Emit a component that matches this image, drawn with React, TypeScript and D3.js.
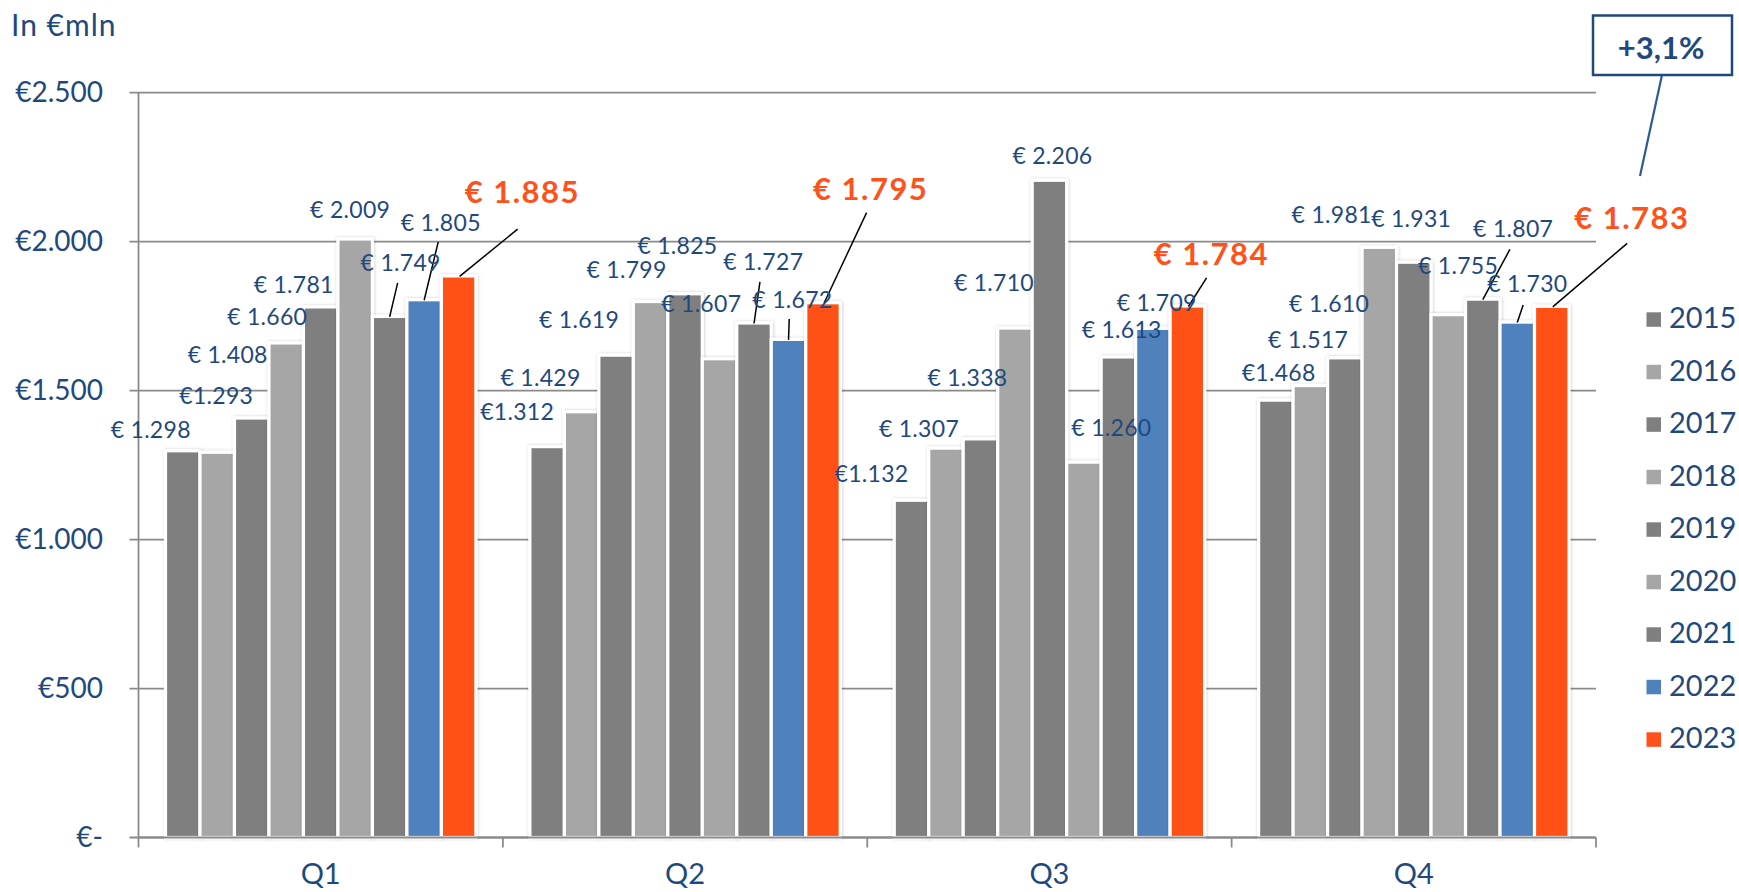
import React from "react";
import * as d3 from "d3";

const quarters = ["Q1", "Q2", "Q3", "Q4"];
const years = ["2015", "2016", "2017", "2018", "2019", "2020", "2021", "2022", "2023"];

const y2015 = [1298, 1312, 1132, 1468];
const y2016 = [1293, 1429, 1307, 1517];
const y2017 = [1408, 1619, 1338, 1610];
const y2018 = [1660, 1799, 1710, 1981];
const y2019 = [1781, 1825, 2206, 1931];
const y2020 = [2009, 1607, 1260, 1755];
const y2021 = [1749, 1727, 1613, 1807];
const y2022 = [1805, 1672, 1709, 1730];
const y2023 = [1885, 1795, 1784, 1783];
const series = [y2015, y2016, y2017, y2018, y2019, y2020, y2021, y2022, y2023];

const yTicks = [0, 500, 1000, 1500, 2000, 2500];
const growthLabel = "+3,1%";
const unitLabel = "In €mln";

// labels written without space after € (per quarter, year index)
const noSpaceLabels = [[0, 1], [1, 0], [2, 0], [3, 0]];

// layout: label offsets (dx, dy) from bar top centre, per quarter per year
const labelOffsets = [
  [[-32, -13], [-1, -48], [-24, -55], [-19, -18], [-27, -13.5], [-5, -20.5], [11, -45.6], [16.6, -68.6], [63.7, -72.5]],
  [[-30, -27], [-41, -26], [-37, -27], [-24, -24], [-7.6, -39.7], [-18.3, -47], [9.2, -53], [3.9, -31.6], [47.7, -102.6]],
  [[-40, -18.5], [-27, -11.3], [-13, -52.8], [-21, -37.2], [3, -15.8], [27.5, -26], [3.3, -18.5], [3.8, -17.5], [24, -40.9]],
  [[2.8, -19], [-2.2, -37.7], [-15.7, -46], [-47.7, -24], [-2.6, -34.8], [9.8, -40.5], [30.4, -61.7], [10.1, -29.7], [80.1, -77]],
];
// leader lines: [quarter, year, dx, dy] start relative to bar top centre
const leaders = [
  [0, 6, 8, -33.6], [0, 7, 14.1, -57.9], [0, 8, 59, -46.8],
  [1, 6, 5.9, -41.2], [1, 7, 0.7, -20.3], [1, 8, 43.6, -90.1],
  [2, 8, 19.2, -28.2],
  [3, 6, 27.1, -49.7], [3, 7, 5.9, -17], [3, 8, 75.4, -62.9],
];

const DARK = "#7f7f7f";
const LIGHT = "#a6a6a6";
const BLUE = "#4f81bd";
const ORANGE = "#ff5119";
const TEXT = "#1f497d";
const GRID = "#8a8a8a";
const colors = [DARK, LIGHT, DARK, LIGHT, DARK, LIGHT, DARK, BLUE, ORANGE];
const FONT = "Lato, 'Open Sans', sans-serif";

const locale = d3.formatLocale({ decimal: ",", thousands: ".", grouping: [3], currency: ["€", ""] });
const fmt = locale.format(",.0f");

export default function App() {
  const W = 1739, H = 892;
  const left = 138.5, right = 1596, top = 92.7, bottom = 837.5;
  const y = d3.scaleLinear().domain([0, 2500]).range([bottom, top]);
  const x0 = d3.scaleBand().domain(quarters).range([left, right]).paddingInner(0).paddingOuter(0);
  const x1 = d3.scaleBand().domain(years).range([0, x0.bandwidth()]).paddingInner(0).paddingOuter(0.783);

  const barCx = (qi: number, yi: number) => (x0(quarters[qi]) as number) + (x1(years[yi]) as number) + x1.bandwidth() / 2;
  const barTop = (qi: number, yi: number) => y(series[yi][qi]);

  const isNoSpace = (qi: number, yi: number) => noSpaceLabels.some(([a, b]) => a === qi && b === yi);

  return (
    <svg width={W} height={H} style={{ position: "absolute", left: 0, top: 0, background: "#fff" }} fontFamily={FONT}>
      <defs>
        <filter id="sh" x="-30%" y="-5%" width="160%" height="110%">
          <feDropShadow dx="0.5" dy="0" stdDeviation="1.8" floodColor="#000" floodOpacity="0.22" />
        </filter>
      </defs>
      <rect x={0} y={0} width={W} height={H} fill="#fff" />
      <text x={11} y={36} fontSize={30} letterSpacing={1} fill={TEXT}>{unitLabel}</text>

      {/* gridlines */}
      {yTicks.map((t) => (
        <g key={t}>
          <line x1={left - 9} x2={right} y1={y(t)} y2={y(t)} stroke={GRID} strokeWidth={1.8} />
          <text x={103} y={y(t) + 9} textAnchor="end" fontSize={28} fill={TEXT}>
            {t === 0 ? "€-" : "€" + fmt(t)}
          </text>
        </g>
      ))}
      {/* y axis */}
      <line x1={left} x2={left} y1={top} y2={bottom + 10} stroke={GRID} strokeWidth={1.8} />
      {/* category ticks */}
      {quarters.map((q) => (
        <line key={"t" + q} x1={(x0(q) as number) + x0.bandwidth()} x2={(x0(q) as number) + x0.bandwidth()} y1={bottom} y2={bottom + 10} stroke={GRID} strokeWidth={1.8} />
      ))}

      {/* bars */}
      {quarters.map((q, qi) => (
        <g key={q}>
          {years.map((yr, yi) => {
            const v = series[yi][qi];
            const bx = (x0(q) as number) + (x1(yr) as number);
            return (
              <rect key={yr} x={bx} y={y(v)} width={x1.bandwidth()} height={bottom - y(v)} fill={colors[yi]} stroke="#fff" strokeWidth={3.2} filter="url(#sh)" />
            );
          })}
        </g>
      ))}
      <line x1={left} x2={right} y1={bottom} y2={bottom} stroke={GRID} strokeWidth={1.8} />

      {/* category labels */}
      {quarters.map((q) => (
        <text key={"l" + q} x={(x0(q) as number) + x0.bandwidth() / 2} y={884} textAnchor="middle" fontSize={29} fill={TEXT}>{q}</text>
      ))}

      {/* leader lines */}
      {leaders.map(([qi, yi, dx, dy], i) => {
        const cx = barCx(qi, yi), ty = barTop(qi, yi);
        return <line key={"ld" + i} x1={cx + dx} y1={ty + dy} x2={cx + (yi === 8 ? 1 : 0)} y2={ty + 0.5} stroke="#000" strokeWidth={1.5} />;
      })}

      {/* data labels */}
      {quarters.map((q, qi) =>
        years.map((yr, yi) => {
          const v = series[yi][qi];
          const [dx, dy] = labelOffsets[qi][yi];
          const hi = yi === 8;
          const txt = (isNoSpace(qi, yi) ? "€" : "€ ") + fmt(v);
          return (
            <text key={q + yr} x={barCx(qi, yi) + dx} y={barTop(qi, yi) + dy} textAnchor="middle"
              fontSize={hi ? 31 : 23} fontWeight={hi ? 700 : 400} letterSpacing={hi ? 1.5 : 0.3} fill={hi ? ORANGE : TEXT}>
              {txt}
            </text>
          );
        })
      )}

      {/* growth callout */}
      <line x1={1662} y1={75} x2={1640} y2={176} stroke="#2e5a94" strokeWidth={2.2} />
      <rect x={1593} y={15.5} width={139} height={59.5} fill="#fff" stroke={TEXT} strokeWidth={2.5} />
      <text x={1661} y={59} textAnchor="middle" fontSize={31} fontWeight={700} fill={TEXT}>{growthLabel}</text>

      {/* legend */}
      {years.map((yr, i) => (
        <g key={"lg" + yr}>
          <rect x={1646.5} y={312.3 + i * 52.5} width={14.5} height={14.5} fill={colors[i]} />
          <text x={1669} y={328.3 + i * 52.5} fontSize={29} fill={TEXT}>{yr}</text>
        </g>
      ))}
    </svg>
  );
}
